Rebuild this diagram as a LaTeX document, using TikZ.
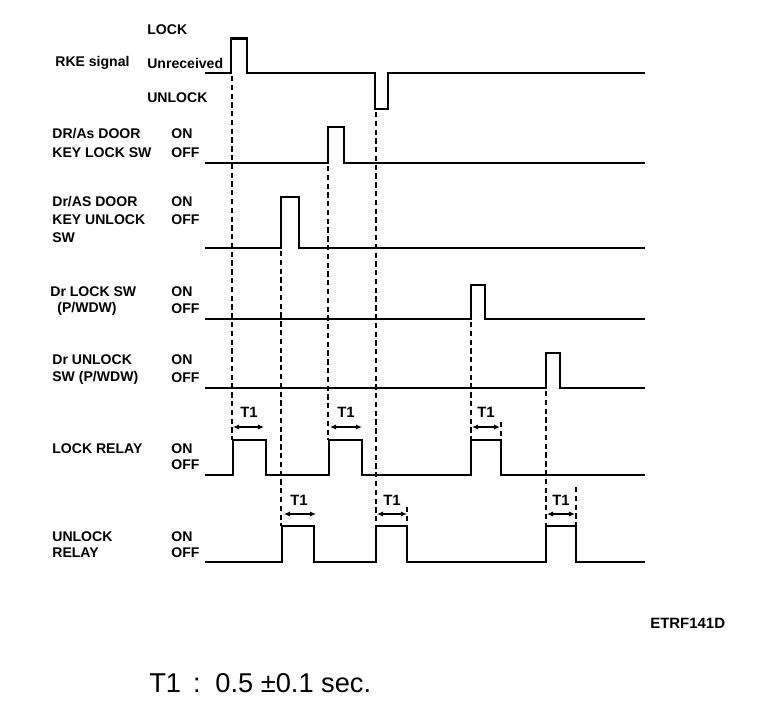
\documentclass[tikz,border=0pt]{standalone}
\usepackage{fontspec}
\setmainfont{Liberation Sans}
\usetikzlibrary{arrows.meta}
\tikzset{
  sig/.style={line width=1.7pt, line join=miter},
  guide/.style={line width=1pt, dash pattern=on 3pt off 2pt},
  lbl/.style={font=\fontsize{8}{9}\selectfont\bfseries, anchor=west, inner sep=0pt},
  tlbl/.style={font=\fontsize{8.5}{9}\selectfont\bfseries, inner sep=0pt},
  tone/.style={{Latex[length=3.5pt,width=3pt]}-{Latex[length=3.5pt,width=3pt]}, line width=1.1pt},
}

\begin{document}
\begin{tikzpicture}[x=0.02cm, y=-0.02cm]
  \useasboundingbox (0,0) rectangle (768,712);

  % RKE signal
  \node[lbl] (lock) at (147,30) {LOCK};
  \node[lbl] (rke) at (55,63) {RKE signal};
  \node[lbl] (unrec) at (147,63) {Unreceived};
  \node[lbl] (unlk) at (147,98) {UNLOCK};
  \draw[sig] (205,73) -- (231,73) -- (231,39) -- (247,39) -- (247,73)
    -- (375,73) -- (375,109) -- (388,109) -- (388,73) -- (645,73);

  % DR/As door key lock sw
  \node[lbl] (kl1) at (52,134) {DR/As DOOR};
  \node[lbl] (kl2) at (52,153) {KEY LOCK SW};
  \node[lbl] (klon) at (171,134) {ON};
  \node[lbl] (kloff) at (171,153) {OFF};
  \draw[sig] (205,163) -- (328,163) -- (328,127) -- (344,127) -- (344,163) -- (645,163);

  % Dr/AS door key unlock sw
  \node[lbl] (ku1) at (52,202) {Dr/AS DOOR};
  \node[lbl] (ku2) at (52,220) {KEY UNLOCK};
  \node[lbl] (ku3) at (52,238) {SW};
  \node[lbl] (kuon) at (171,202) {ON};
  \node[lbl] (kuoff) at (171,220) {OFF};
  \draw[sig] (205,248) -- (281,248) -- (281,197) -- (299,197) -- (299,248) -- (645,248);

  % Dr lock sw
  \node[lbl] (dl1) at (50,292) {Dr LOCK SW};
  \node[lbl] (dl2) at (57,309) {(P/WDW)};
  \node[lbl] (dlon) at (171,292) {ON};
  \node[lbl] (dloff) at (171,309) {OFF};
  \draw[sig] (205,319) -- (471,319) -- (471,285) -- (485,285) -- (485,319) -- (645,319);

  % Dr unlock sw
  \node[lbl] (du1) at (52,360) {Dr UNLOCK};
  \node[lbl] (du2) at (52,378) {SW (P/WDW)};
  \node[lbl] (duon) at (171,360) {ON};
  \node[lbl] (duoff) at (171,378) {OFF};
  \draw[sig] (205,388) -- (546,388) -- (546,353) -- (560,353) -- (560,388) -- (645,388);

  % lock relay
  \node[lbl] (lr) at (52,449) {LOCK RELAY};
  \node[lbl] (lron) at (171,449) {ON};
  \node[lbl] (lroff) at (171,465) {OFF};
  \draw[sig] (205,475) -- (233,475) -- (233,440) -- (266,440) -- (266,475)
    -- (329,475) -- (329,440) -- (362,440) -- (362,475)
    -- (471,475) -- (471,440) -- (501,440) -- (501,475) -- (645,475);

  % unlock relay
  \node[lbl] (ur1) at (52,537) {UNLOCK};
  \node[lbl] (ur2) at (52,553) {RELAY};
  \node[lbl] (uron) at (171,537) {ON};
  \node[lbl] (uroff) at (171,553) {OFF};
  \draw[sig] (205,562) -- (282,562) -- (282,526) -- (314,526) -- (314,562)
    -- (376,562) -- (376,526) -- (407,526) -- (407,562)
    -- (546,562) -- (546,526) -- (576,526) -- (576,562) -- (645,562);

  % guide lines
  \draw[guide] (232,76) -- (232,440);
  \draw[guide] (281,251) -- (281,526);
  \draw[guide] (328,166) -- (328,440);
  \draw[guide] (376,112) -- (376,526);
  \draw[guide] (471,322) -- (471,440);
  \draw[guide] (546,391) -- (546,526);
  \draw[guide] (501,422) -- (501,440);
  \draw[guide] (407,507) -- (407,526);
  \draw[guide] (576,487) -- (576,526);

  % T1 spans
  \draw[tone] (233,427) -- (264,427);
  \draw[tone] (330,427) -- (362,427);
  \draw[tone] (472,427) -- (500,427);
  \node[tlbl] (ta) at (249,412) {T1};
  \node[tlbl] (tb) at (346,412) {T1};
  \node[tlbl] (tc) at (486,412) {T1};
  \draw[tone] (284,514) -- (316,514);
  \draw[tone] (377,514) -- (407,514);
  \draw[tone] (547,514) -- (575,514);
  \node[tlbl] (td) at (299,500) {T1};
  \node[tlbl] (te) at (392,500) {T1};
  \node[tlbl] (tf) at (561,500) {T1};

  \node[lbl, font=\fontsize{8.5}{9}\selectfont\bfseries] (code) at (650,623) {ETRF141D};
  \node[anchor=west, inner sep=0pt, font=\fontsize{15.5}{17}\selectfont] (note) at (149,683) {T1\, :\, 0.5 ±0.1 sec.};
\end{tikzpicture}
\end{document}
